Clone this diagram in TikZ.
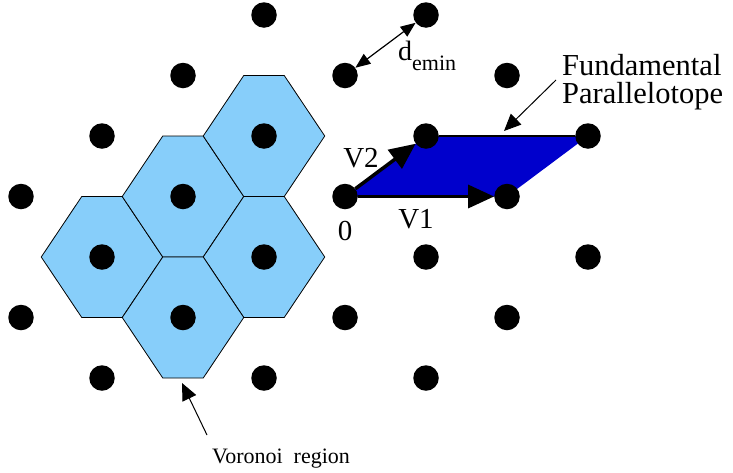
\documentclass[tikz,border=0pt]{standalone}
\usepackage{fontspec}
\setmainfont{Liberation Serif}
\usepackage{xcolor}
\usepackage{tikz}
\usetikzlibrary{arrows.meta}

\definecolor{cellblue}{RGB}{135,206,250}
\definecolor{parablue}{RGB}{0,0,204}

\tikzset{
  latpoint/.style={circle,fill=black,inner sep=0pt,minimum size=25.5pt},
  voronoi/.style={fill=cellblue,draw=black,line width=0.8pt},
  vec/.style={-{Triangle[length=26pt,width=23pt]},line width=3.5pt},
  dist/.style={{Triangle[length=15pt,width=12pt]}-{Triangle[length=15pt,width=12pt]},line width=1.2pt},
  pointer/.style={-{Triangle[length=17pt,width=15pt]},line width=1pt},
  veclabel/.style={inner sep=0pt,anchor=base,font=\fontsize{29}{29}\selectfont}
}

\begin{document}
\begin{tikzpicture}[x=1pt,y=-1pt]
\useasboundingbox (0,0) rectangle (733,472);
% voronoi regions
\filldraw[voronoi,shift={(102,257)}] (-60.75,0) -- (-20.25,-60.5) -- (20.25,-60.5) -- (60.75,0) -- (20.25,60.5) -- (-20.25,60.5) -- cycle;
\filldraw[voronoi,shift={(183,196.5)}] (-60.75,0) -- (-20.25,-60.5) -- (20.25,-60.5) -- (60.75,0) -- (20.25,60.5) -- (-20.25,60.5) -- cycle;
\filldraw[voronoi,shift={(264,136)}] (-60.75,0) -- (-20.25,-60.5) -- (20.25,-60.5) -- (60.75,0) -- (20.25,60.5) -- (-20.25,60.5) -- cycle;
\filldraw[voronoi,shift={(264,257)}] (-60.75,0) -- (-20.25,-60.5) -- (20.25,-60.5) -- (60.75,0) -- (20.25,60.5) -- (-20.25,60.5) -- cycle;
\filldraw[voronoi,shift={(183,317.5)}] (-60.75,0) -- (-20.25,-60.5) -- (20.25,-60.5) -- (60.75,0) -- (20.25,60.5) -- (-20.25,60.5) -- cycle;
% fundamental parallelotope
\fill[parablue] (345,196.5) -- (426,136) -- (588,136) -- (507,196.5) -- cycle;
% lattice points
\node[latpoint] (d0) at (264,15) {};
\node[latpoint] (f0) at (426,15) {};
\node[latpoint] (c1) at (183,75.5) {};
\node[latpoint] (e1) at (345,75.5) {};
\node[latpoint] (g1) at (507,75.5) {};
\node[latpoint] (b2) at (102,136) {};
\node[latpoint] (d2) at (264,136) {};
\node[latpoint] (f2) at (426,136) {};
\node[latpoint] (h2) at (588,136) {};
\node[latpoint] (a3) at (21,196.5) {};
\node[latpoint] (c3) at (183,196.5) {};
\node[latpoint] (e3) at (345,196.5) {};
\node[latpoint] (g3) at (507,196.5) {};
\node[latpoint] (b4) at (102,257) {};
\node[latpoint] (d4) at (264,257) {};
\node[latpoint] (f4) at (426,257) {};
\node[latpoint] (h4) at (588,257) {};
\node[latpoint] (a5) at (21,317.5) {};
\node[latpoint] (c5) at (183,317.5) {};
\node[latpoint] (e5) at (345,317.5) {};
\node[latpoint] (g5) at (507,317.5) {};
\node[latpoint] (b6) at (102,378) {};
\node[latpoint] (d6) at (264,378) {};
\node[latpoint] (f6) at (426,378) {};
% basis vectors
\draw[line width=1.5pt] (f2) -- (h2);
\draw[vec] (e3) -- (g3);
\draw[vec] (e3) -- (f2);
\draw[dist] (e1) -- (f0);
\node[veclabel] (v2) at (361,167) {V2};
\node[veclabel] (v1) at (416,228) {V1};
\node[veclabel] (zero) at (345,240) {0};
\node[anchor=base west,inner sep=0pt] (dmin) at (398,60) {\fontsize{28}{28}\selectfont d\raisebox{-10pt}{\fontsize{22}{22}\selectfont emin}};
% annotations
\node[anchor=north west,inner sep=0pt,align=left,font=\fontsize{30.5}{28}\selectfont] (fund) at (562,54) {Fundamental\\Parallelotope};
\coordinate (fundtail) at (556,80);
\coordinate (fundtip) at (504,131);
\draw[pointer] (fundtail) -- (fundtip);
\node[anchor=base west,inner sep=0pt,font=\fontsize{22}{22}\selectfont] (vor) at (212,463) {Voronoi\ \ region};
\coordinate (vortail) at (207,435);
\coordinate (vortip) at (182,383);
\draw[pointer] (vortail) -- (vortip);
\end{tikzpicture}
\end{document}
